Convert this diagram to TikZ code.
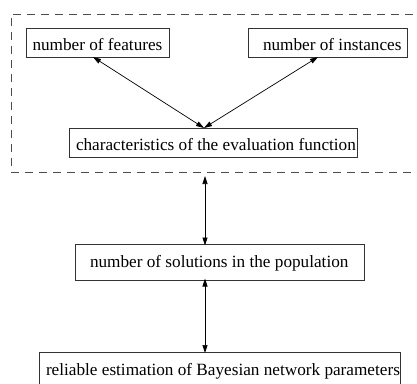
\documentclass[tikz,border=0pt]{standalone}
\usepackage{fontspec}
\setmainfont{Liberation Serif}
\usetikzlibrary{arrows.meta}
\begin{document}
\begin{tikzpicture}[x=1pt,y=-1pt,
  every node/.style={inner sep=0pt, outer sep=0pt},
  box/.style={draw=black!80, line width=0.9pt, anchor=north west},
  label/.style={anchor=base west, font=\fontsize{17.2}{20}\selectfont},
  group/.style={draw=black!70, line width=0.9pt, dash pattern=on 8pt off 6pt, anchor=north west},
  link/.style={line width=0.7pt, {Triangle[length=8pt,width=5pt]}-{Triangle[length=8pt,width=5pt]}}]
  \useasboundingbox (0,0) rectangle (417,383);
  \clip (0,0) rectangle (417,383);
  % dashed group around the evaluation-function factors
  \node[group, minimum width=430pt, minimum height=158pt] (grp) at (11,14) {};
  % boxes
  \node[box, minimum width=143pt, minimum height=29pt] (feat) at (26,28) {};
  \node[label] (featT) at (32.5,50) {number of features};
  \node[box, minimum width=159pt, minimum height=29pt] (inst) at (248,28) {};
  \node[label] (instT) at (263,50) {number of instances};
  \node[box, minimum width=288pt, minimum height=29pt] (char) at (69,128) {};
  \node[label] (charT) at (76,150) {characteristics of the evaluation function};
  \node[box, minimum width=289pt, minimum height=36pt] (sol) at (75,244) {};
  \node[label] (solT) at (90,267) {number of solutions in the population};
  \node[box, minimum width=361pt, minimum height=45pt] (bay) at (39,352) {};
  \node[label] (bayT) at (46,375) {reliable estimation of Bayesian network parameters};
  % connectors
  \draw[link] ([xshift=67pt]feat.south west) -- ([xshift=135pt]char.north west);
  \draw[link] ([xshift=70pt]inst.south west) -- ([xshift=135pt]char.north west);
  \draw[link] ([xshift=194pt,yshift=-4pt]grp.south west) -- ([xshift=130pt,yshift=-1.5pt]sol.north west);
  \draw[link] ([xshift=130pt,yshift=1.5pt]sol.south west) -- ([xshift=166pt,yshift=-1pt]bay.north west);
\end{tikzpicture}
\end{document}
